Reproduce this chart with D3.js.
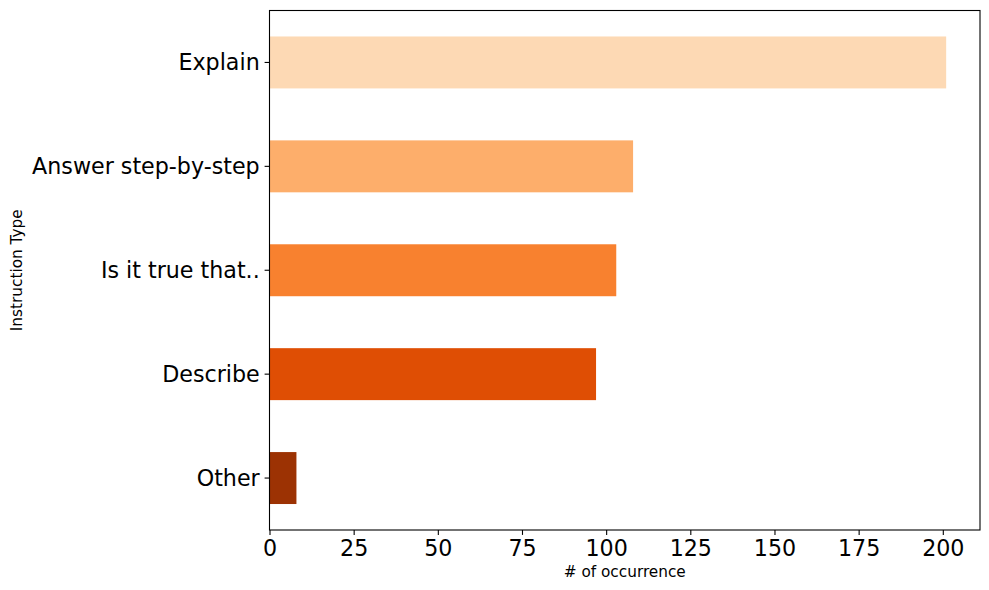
<!DOCTYPE html>
<html>
<head>
<meta charset="utf-8">
<script src="https://cdn.jsdelivr.net/npm/d3@7"></script>
<style>
  body { margin: 0; background: #fff; }
  text { font-family: "DejaVu Sans", sans-serif; fill: #000; }
</style>
</head>
<body>
<div id="viz"></div>
<script>
// data
var categories = ["Explain", "Answer step-by-step", "Is it true that..", "Describe", "Other"];
var counts = [201, 108, 103, 97, 8];
var colors = ["#fdd9b4", "#fdae6b", "#f8812f", "#df4e04", "#9c3203"];
var xTicks = [0, 25, 50, 75, 100, 125, 150, 175, 200];

var W = 989, H = 590;
// plot box (don't call it "top" - that's window.top)
var plotL = 269.5, plotR = 980, plotT = 10.5, plotB = 530;

var svg = d3.select("#viz")
    .append("svg")
    .attr("width", W)
    .attr("height", H);

var x = d3.scaleLinear()
    .domain([0, d3.max(counts) * 1.05])
    .range([plotL, plotR]);

var y = d3.scaleBand()
    .domain(categories)
    .range([plotT, plotB])
    .paddingInner(0.5)
    .paddingOuter(0.25);

// bars
svg.selectAll("rect.bar")
    .data(categories)
    .enter()
    .append("rect")
    .attr("class", "bar")
    .attr("x", x(0))
    .attr("y", function (d) { return y(d); })
    .attr("width", function (d, i) { return x(counts[i]) - x(0); })
    .attr("height", y.bandwidth())
    .attr("fill", function (d, i) { return colors[i]; });

// axes
var xAxis = d3.axisBottom(x)
    .tickValues(xTicks)
    .tickSize(4.9)
    .tickPadding(4.9)
    .tickSizeOuter(0);
var gx = svg.append("g")
    .attr("transform", "translate(0," + plotB + ")")
    .call(xAxis);
gx.select(".domain").remove();
gx.selectAll("line").attr("stroke", "#000").attr("stroke-width", 1.1);
gx.selectAll("text")
    .style("font-size", "22.2px")
    .style("font-family", "DejaVu Sans, sans-serif")
    .attr("fill", "#000");

var yAxis = d3.axisLeft(y)
    .tickSize(4.9)
    .tickPadding(4.9)
    .tickSizeOuter(0);
var gy = svg.append("g")
    .attr("transform", "translate(" + plotL + ",0)")
    .call(yAxis);
gy.select(".domain").remove();
gy.selectAll("line").attr("stroke", "#000").attr("stroke-width", 1.1);
gy.selectAll("text")
    .attr("dy", "0.36em")
    .style("font-size", "22.2px")
    .style("font-family", "DejaVu Sans, sans-serif")
    .attr("fill", "#000");

// frame (spines)
svg.append("rect")
    .attr("x", plotL)
    .attr("y", plotT)
    .attr("width", plotR - plotL)
    .attr("height", plotB - plotT)
    .attr("fill", "none")
    .attr("stroke", "#000")
    .attr("stroke-width", 1.1);

// axis labels
svg.append("text")
    .attr("x", (plotL + plotR) / 2)
    .attr("y", 577)
    .attr("text-anchor", "middle")
    .style("font-size", "15.3px")
    .text("# of occurrence");

svg.append("text")
    .attr("transform", "translate(21.5," + ((plotT + plotB) / 2) + ") rotate(-90)")
    .attr("text-anchor", "middle")
    .style("font-size", "15.3px")
    .text("Instruction Type");
</script>
</body>
</html>
